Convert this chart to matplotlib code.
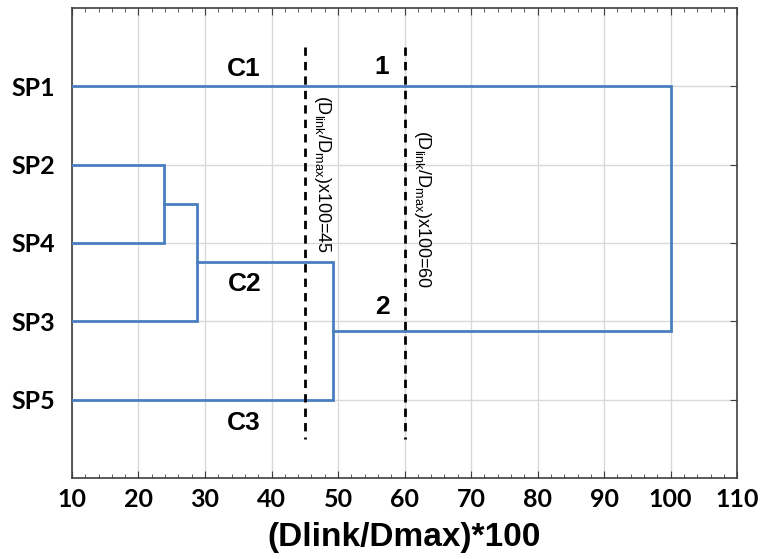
import matplotlib
matplotlib.use("Agg")
import matplotlib.pyplot as plt
from matplotlib.ticker import MultipleLocator

# leaves in plotted order (top to bottom) and merges: (node a, node b, linkage distance)
leaves = ["SP1", "SP2", "SP4", "SP3", "SP5"]
merges = [(1, 2, 23.9), (5, 3, 28.8), (6, 4, 49.2), (0, 7, 100.0)]
cut_levels = [45, 60]
cluster_names = ["C1", "C2", "C3"]

plt.rcParams["mathtext.fontset"] = "custom"
plt.rcParams["mathtext.rm"] = "Liberation Sans"

fig = plt.figure(figsize=(7.78, 5.59), dpi=100)
ax = fig.add_axes([0.0925, 0.145, 0.855, 0.841])

x0 = 10
blue = "#4a7ebf"

pos = {i: i + 1 for i in range(len(leaves))}
height = {i: x0 for i in range(len(leaves))}
node = len(leaves)
for a, b, h in merges:
    ax.plot([height[a], h, h, height[b]], [pos[a], pos[a], pos[b], pos[b]],
            color=blue, lw=2, solid_joinstyle="miter", zorder=3)
    pos[node] = (pos[a] + pos[b]) / 2
    height[node] = h
    node += 1

# cut lines
for c in cut_levels:
    ax.plot([c, c], [0.5, 5.5], color="black", lw=2, ls=(0, (3, 2.2)), zorder=4)

lab_font = dict(family="Liberation Sans", fontsize=13, rotation=270,
                ha="center", va="center")
ax.text(47.6, 2.12, r"(D$_{\mathrm{link}}$/D$_{\mathrm{max}}$)x100=45", **lab_font)
ax.text(62.7, 2.57, r"(D$_{\mathrm{link}}$/D$_{\mathrm{max}}$)x100=60", **lab_font)

big = dict(family="Liberation Sans", fontsize=19, fontweight="bold",
           ha="center", va="center")
ax.text(35.8, 0.78, cluster_names[0], **big)
ax.text(35.9, 3.52, cluster_names[1], **big)
ax.text(35.9, 5.3, cluster_names[2], **big)
ax.text(56.6, 0.75, "1", **big)
ax.text(56.6, 3.82, "2", **big)

ax.set_xlim(10, 110)
ax.set_ylim(6, 0)
ax.set_xticks(range(10, 111, 10))
ax.xaxis.set_minor_locator(MultipleLocator(2))
ax.set_yticks(range(1, len(leaves) + 1))
ax.set_yticklabels(leaves)

ax.grid(True, color="#d9d9d9", lw=1, zorder=0)
ax.set_axisbelow(True)

ax.tick_params(axis="x", which="both", direction="in", top=True, bottom=True,
               color="#404040")
ax.tick_params(axis="x", which="major", length=5, pad=7)
ax.tick_params(axis="x", which="minor", length=3)
ax.tick_params(axis="y", direction="in", left=True, right=True, length=5,
               color="#404040", pad=12)
for lab in ax.get_xticklabels() + ax.get_yticklabels():
    lab.set_family("Lato")
    lab.set_fontweight("bold")
    lab.set_fontsize(18)

for s in ax.spines.values():
    s.set_color("#404040")
    s.set_linewidth(1.2)

ax.set_xlabel("(Dlink/Dmax)*100", family="Liberation Sans", fontsize=24,
              fontweight="bold", labelpad=8)

fig.savefig("out.png", dpi=100)
